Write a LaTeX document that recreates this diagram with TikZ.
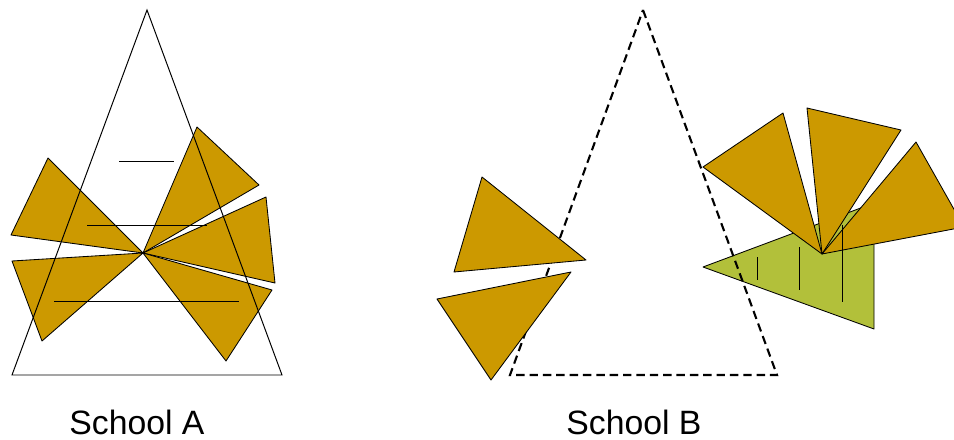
\documentclass[tikz,border=0pt]{standalone}
\usepackage{fontspec}
\setmainfont{Liberation Sans}
\usetikzlibrary{positioning}

\definecolor{gold}{RGB}{204,153,0}
\definecolor{olive}{RGB}{178,192,58}

\begin{document}
\begin{tikzpicture}[
	x=0.025cm, y=-0.025cm,
	piece/.style={draw, fill=gold, line width=0.6pt, line join=round},
	greenpiece/.style={draw, fill=olive, line width=0.6pt, line join=round},
	outline/.style={draw, line width=0.7pt},
	dashline/.style={draw, line width=1.5pt, dash pattern=on 6pt off 3.5pt},
	stripe/.style={line width=0.7pt},
	caption/.style={font=\fontsize{24}{29}\selectfont}
	]
	
	\useasboundingbox (0,0) rectangle (954,440);
	\clip (0,0) rectangle (954,440);
	
	% ======================
	% School A
	% ======================
	\coordinate (PA) at (143,253);
	
	% Teile um den Punkt
	\draw[piece] (PA) -- (48,158) -- (11,235) -- cycle;
	\draw[piece] (PA) -- (12,261) -- (42,341) -- cycle;
	\draw[piece] (PA) -- (197,127) -- (259,185) -- cycle;
	\draw[piece] (PA) -- (266,197) -- (275,283) -- cycle;
	\draw[piece] (PA) -- (272,290) -- (226,361) -- cycle;
	
	% Dreieck und Linien
	\draw[outline] (147,10) -- (282,375) -- (12,375) -- cycle;
	\draw[stripe] (119,161) -- (174,161);
	\draw[stripe] (87,225) -- (207,225);
	\draw[stripe] (54,301) -- (239,301);
	
	\node[caption] (labA) at (137,422) {School A};
	
	% ======================
	% School B
	% ======================
	\draw[greenpiece] (703,267) -- (874,203) -- (874,329) -- cycle;
	
	\draw[dashline] (643,10) -- (777,375) -- (510,375) -- cycle;
	
	% links
	\draw[piece] (482,177) -- (586,260) -- (454,272) -- cycle;
	\draw[piece] (571,272) -- (437,299) -- (491,380) -- cycle;
	
	% rechts
	\coordinate (PB) at (822,254);
	\draw[piece] (PB) -- (703,167) -- (783,113) -- cycle;
	\draw[piece] (PB) -- (807,108) -- (901,130) -- cycle;
	\draw[piece] (PB) -- (916,142) -- (964,227) -- cycle;
	
	\draw[stripe] (757,257) -- (757,280);
	\draw[stripe] (799,247) -- (799,290);
	\draw[stripe] (842,225) -- (842,302);
	
	\node[caption] (labB) at (634,422) {School B};
	
\end{tikzpicture}
\end{document}
